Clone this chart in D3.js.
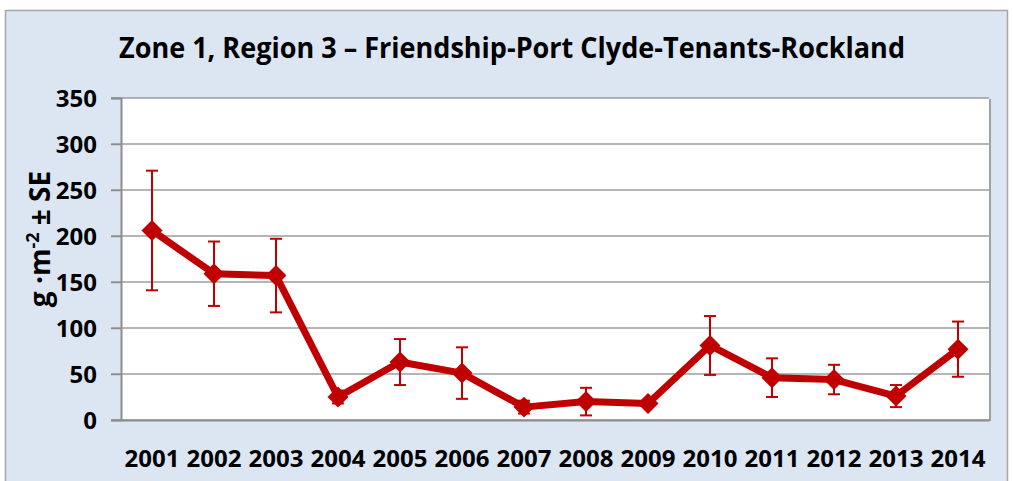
<!DOCTYPE html>
<html>
<head>
<meta charset="utf-8">
<script src="https://cdn.jsdelivr.net/npm/d3@7"></script>
<style>
  body { margin: 0; background: #ffffff; }
  text { font-family: "Open Sans", "DejaVu Sans", sans-serif; font-weight: bold; fill: #000; }
</style>
</head>
<body>
<div class="chart"></div>
<script>
// ============================================================================
// Data
// ============================================================================

var years = ['2001', '2002', '2003', '2004', '2005', '2006', '2007',
             '2008', '2009', '2010', '2011', '2012', '2013', '2014'];
var means = [206, 159, 157, 25, 63, 51, 14, 20, 18, 81, 46, 44, 26, 77];
var se = [65, 35, 40, 7, 25, 28, 7, 15, 3, 32, 21, 16, 12, 30];
var yTicks = [0, 50, 100, 150, 200, 250, 300, 350];

// ============================================================================
// Create SVG
// ============================================================================

var svgWidth = 1013;
var svgHeight = 481;

var margin = { top: 98, right: 24, bottom: 61, left: 121 };
var width = svgWidth - margin.left - margin.right;
var height = svgHeight - margin.top - margin.bottom;

var svg = d3.select('.chart')
  .append('svg')
  .attr('width', svgWidth)
  .attr('height', svgHeight);

// chart area background + border
svg.append('rect')
  .attr('x', 5.5)
  .attr('y', 10.5)
  .attr('width', 1002)
  .attr('height', 480)
  .attr('fill', '#dce6f2')
  .attr('stroke', '#a6a6a6')
  .attr('stroke-width', 1.5);

// title
svg.append('text')
  .attr('x', 512)
  .attr('y', 58)
  .attr('text-anchor', 'middle')
  .style('font-size', '28px')
  .attr('textLength', 786)
  .attr('lengthAdjust', 'spacingAndGlyphs')
  .text('Zone 1, Region 3 – Friendship-Port Clyde-Tenants-Rockland');

var chartGroup = svg.append('g')
  .attr('transform', `translate(${margin.left}, ${margin.top})`);

// ============================================================================
// Scales & axes
// ============================================================================

var xScale = d3.scaleBand()
  .domain(years)
  .range([0, width]);

var yScale = d3.scaleLinear()
  .domain([0, 350])
  .range([height, 0]);

// plot area (with a little shadow on the right)
chartGroup.append('rect')
  .attr('x', 2)
  .attr('y', 1)
  .attr('width', width)
  .attr('height', height)
  .attr('fill', '#a0a0a0');

chartGroup.append('rect')
  .attr('width', width)
  .attr('height', height)
  .attr('fill', '#fff');

// gridlines
chartGroup.append('g')
  .selectAll('line')
  .data(yTicks)
  .enter()
    .append('line')
    .attr('x1', -10)
    .attr('x2', width)
    .attr('y1', d => yScale(d))
    .attr('y2', d => yScale(d))
    .attr('stroke', '#9d9d9d')
    .attr('stroke-width', 1.5);

// y axis
var yAxis = d3.axisLeft(yScale)
  .tickValues(yTicks)
  .tickSize(10)
  .tickPadding(14);

chartGroup.append('g')
  .call(yAxis)
  .call(g => g.select('.domain').attr('stroke', '#8c8c8c').attr('stroke-width', 2))
  .call(g => g.selectAll('.tick line').attr('stroke', '#8c8c8c').attr('stroke-width', 1.5))
  .call(g => g.selectAll('.tick text')
    .attr('font-family', '"Open Sans", sans-serif')
    .attr('dy', '0.36em')
    .style('font-size', '24px')
    .style('font-weight', 'bold'));

// x axis
var xAxis = d3.axisBottom(xScale)
  .tickSize(0)
  .tickPadding(30);

chartGroup.append('g')
  .attr('transform', `translate(0, ${height})`)
  .call(xAxis)
  .call(g => g.select('.domain').attr('stroke', '#8c8c8c').attr('stroke-width', 2))
  .call(g => g.selectAll('.tick text')
    .attr('font-family', '"Open Sans", sans-serif')
    .style('font-size', '24px')
    .style('font-weight', 'bold'));

// y axis title
var yLabel = svg.append('text')
  .attr('transform', 'translate(50, 239) rotate(-90)')
  .attr('text-anchor', 'middle')
  .style('font-size', '28px');
yLabel.append('tspan').text('g ·m');
yLabel.append('tspan').attr('dy', -11).style('font-size', '18px').text('-2');
yLabel.append('tspan').attr('dy', 11).text(' ± SE');

// ============================================================================
// Series
// ============================================================================

var red = '#c00000';
var cx = d => xScale(d) + xScale.bandwidth() / 2;
var capW = 6;

var points = years.map((y, i) => ({ year: y, mean: means[i], se: se[i] }));

// error bars
var errGroup = chartGroup.append('g')
  .attr('stroke', red)
  .attr('stroke-width', 2);

errGroup.selectAll('.err')
  .data(points)
  .enter()
    .append('line')
    .attr('x1', d => cx(d.year))
    .attr('x2', d => cx(d.year))
    .attr('y1', d => yScale(d.mean + d.se))
    .attr('y2', d => yScale(d.mean - d.se));

errGroup.selectAll('.capTop')
  .data(points)
  .enter()
    .append('line')
    .attr('x1', d => cx(d.year) - capW)
    .attr('x2', d => cx(d.year) + capW)
    .attr('y1', d => yScale(d.mean + d.se))
    .attr('y2', d => yScale(d.mean + d.se));

errGroup.selectAll('.capBottom')
  .data(points)
  .enter()
    .append('line')
    .attr('x1', d => cx(d.year) - capW)
    .attr('x2', d => cx(d.year) + capW)
    .attr('y1', d => yScale(d.mean - d.se))
    .attr('y2', d => yScale(d.mean - d.se));

// line
var line = d3.line()
  .x(d => cx(d.year))
  .y(d => yScale(d.mean));

chartGroup.append('path')
  .datum(points)
  .attr('d', line)
  .attr('fill', 'none')
  .attr('stroke', red)
  .attr('stroke-width', 7)
  .attr('stroke-linejoin', 'round');

// diamond markers
var diamond = d3.symbol().type(d3.symbolDiamond2).size(280);

chartGroup.selectAll('.marker')
  .data(points)
  .enter()
    .append('path')
    .attr('d', diamond)
    .attr('transform', d => `translate(${cx(d.year)}, ${yScale(d.mean)})`)
    .attr('fill', red);
</script>
</body>
</html>
